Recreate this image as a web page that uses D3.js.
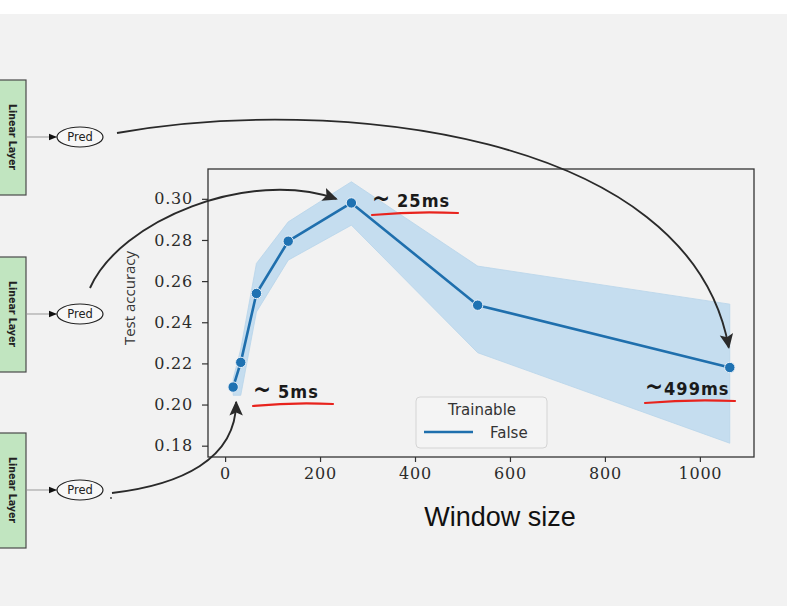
<!DOCTYPE html>
<html>
<head>
<meta charset="utf-8">
<script src="https://cdn.jsdelivr.net/npm/d3@7"></script>
<style>
  body { margin: 0; background: #fff; }
  svg { display: block; }
</style>
</head>
<body>
<div id="chart"></div>
<script>
// Window sizes and test accuracy (mean + confidence band)
const windowSizes = [17, 33, 66, 133, 266, 532, 1063];
const accMean  = [0.2085, 0.2205, 0.2540, 0.2794, 0.2980, 0.2483, 0.2180];
const accLower = [0.2045, 0.2045, 0.2450, 0.2702, 0.2872, 0.2252, 0.1812];
const accUpper = [0.2125, 0.2270, 0.2686, 0.2888, 0.3083, 0.2673, 0.2488];
const xTicks = [0, 200, 400, 600, 800, 1000];
const yTicks = [0.18, 0.20, 0.22, 0.24, 0.26, 0.28, 0.30];
const legendTitle = "Trainable";
const legendLabel = "False";
const blockLabels = ["Linear Layer", "Linear Layer", "Linear Layer"];
const blockTops = [80, 257, 433];
const notes = ["5ms", "25ms", "499ms"];

const W = 787, H = 606;
const svg = d3.select("#chart").append("svg")
    .attr("width", W)
    .attr("height", H)

svg.append("rect").attr("width", W).attr("height", H).attr("fill", "#fff")
svg.append("rect").attr("y", 14).attr("width", W).attr("height", H - 14).attr("fill", "#f2f2f2")

// plot area
const plot = {left: 208, right: 754, top: 169, bottom: 457}
var x = d3.scaleLinear().domain([-36, 1114]).range([plot.left, plot.right])
var y = d3.scaleLinear().domain([0.1745, 0.3145]).range([plot.bottom, plot.top])

const data = windowSizes.map((w, i) => ({w: w, m: accMean[i], lo: accLower[i], hi: accUpper[i]}))

// band
svg.append("path")
    .datum(data)
    .attr("fill", "#c5ddef")
    .attr("stroke", "#b8d4ea")
    .attr("stroke-width", 0.8)
    .attr("d", d3.area().x(d => x(d.w)).y0(d => y(d.lo)).y1(d => y(d.hi)))

// mean line
svg.append("path")
    .datum(data)
    .attr("fill", "none")
    .attr("stroke", "#1f6fad")
    .attr("stroke-width", 2.6)
    .attr("stroke-linejoin", "round")
    .attr("d", d3.line().x(d => x(d.w)).y(d => y(d.m)))

svg.append("g")
    .selectAll("circle")
    .data(data)
    .join("circle")
    .attr("cx", d => x(d.w))
    .attr("cy", d => y(d.m))
    .attr("r", 5.2)
    .attr("fill", "#1f72b2")
    .attr("stroke", "#e8f0f8")
    .attr("stroke-width", 1)

// axes
const tickFont = "'DejaVu Serif', serif"
const xAxis = svg.append("g")
    .attr("transform", "translate(0," + plot.bottom + ")")
    .call(d3.axisBottom(x).tickValues(xTicks).tickSize(5).tickPadding(6).tickFormat(d3.format("d")))
const yAxis = svg.append("g")
    .attr("transform", "translate(" + plot.left + ",0)")
    .call(d3.axisLeft(y).tickValues(yTicks).tickSize(6).tickPadding(9).tickFormat(d3.format(".2f")))
for (const ax of [xAxis, yAxis]) {
    ax.select(".domain").remove()
    ax.selectAll("line").attr("stroke", "#333").attr("stroke-width", 1.2)
    ax.selectAll("text")
        .attr("fill", "#2b2b2b")
        .style("font-family", tickFont)
        .style("font-size", "16px")
        .style("letter-spacing", "0.8px")
}

svg.append("rect")
    .attr("x", plot.left).attr("y", plot.top)
    .attr("width", plot.right - plot.left).attr("height", plot.bottom - plot.top)
    .attr("fill", "none").attr("stroke", "#333").attr("stroke-width", 1.3)

// axis labels
svg.append("text")
    .attr("transform", "translate(135," + ((plot.top + plot.bottom) / 2 - 15) + ") rotate(-90)")
    .attr("text-anchor", "middle")
    .attr("fill", "#333")
    .style("font-family", "'Open Sans', sans-serif")
    .style("font-size", "15px")
    .text("Test accuracy")

svg.append("text")
    .attr("x", 500).attr("y", 526)
    .attr("text-anchor", "middle")
    .attr("fill", "#111")
    .style("font-family", "'Liberation Sans', Arial, sans-serif")
    .style("font-size", "27px")
    .text("Window size")

// legend
const lg = svg.append("g").attr("transform", "translate(416,397)")
lg.append("rect")
    .attr("width", 131).attr("height", 51).attr("rx", 4)
    .attr("fill", "#f4f4f4").attr("stroke", "#d4d4d4")
lg.append("text")
    .attr("x", 66).attr("y", 18)
    .attr("text-anchor", "middle")
    .attr("fill", "#333")
    .style("font-family", "'DejaVu Sans', sans-serif")
    .style("font-size", "15px")
    .text(legendTitle)
lg.append("line")
    .attr("x1", 8).attr("x2", 57).attr("y1", 35).attr("y2", 35)
    .attr("stroke", "#1f6fad").attr("stroke-width", 2.6)
lg.append("text")
    .attr("x", 74).attr("y", 41)
    .attr("fill", "#333")
    .style("font-family", "'DejaVu Sans', sans-serif")
    .style("font-size", "15px")
    .text(legendLabel)

// left diagram blocks
const defs = svg.append("defs")
defs.append("marker")
    .attr("id", "head")
    .attr("viewBox", "0 0 10 10")
    .attr("refX", 9).attr("refY", 5)
    .attr("markerUnits", "userSpaceOnUse")
    .attr("markerWidth", 15).attr("markerHeight", 15)
    .attr("orient", "auto")
    .append("path").attr("d", "M0,0.5 L10,5 L0,9.5 L2,5 Z").attr("fill", "#2a2a2a")
defs.append("marker")
    .attr("id", "small")
    .attr("viewBox", "0 0 10 10")
    .attr("refX", 10).attr("refY", 5)
    .attr("markerUnits", "userSpaceOnUse")
    .attr("markerWidth", 11).attr("markerHeight", 8)
    .attr("orient", "auto")
    .append("path").attr("d", "M0,1 L10,5 L0,9 Z").attr("fill", "#111")

const predCenters = []
blockTops.forEach((top, i) => {
    const g = svg.append("g")
    const cy = top + 57
    g.append("rect")
        .attr("x", -2).attr("y", top).attr("width", 28).attr("height", 115)
        .attr("fill", "#c1e5c0").attr("stroke", "#4a4a4a").attr("stroke-width", 1.2)
    g.append("text")
        .attr("transform", "translate(9, " + cy + ") rotate(90)")
        .attr("text-anchor", "middle")
        .attr("fill", "#222")
        .style("font-family", "'DejaVu Sans Condensed', 'DejaVu Sans', sans-serif")
        .style("font-weight", "bold")
        .style("font-size", "10.5px")
        .text(blockLabels[i])
    g.append("line")
        .attr("x1", 27).attr("x2", 57).attr("y1", cy).attr("y2", cy)
        .attr("stroke", "#999").attr("stroke-width", 1)
        .attr("marker-end", "url(#small)")
    g.append("ellipse")
        .attr("cx", 80).attr("cy", cy).attr("rx", 23).attr("ry", 10)
        .attr("fill", "#f7f7f7").attr("stroke", "#222").attr("stroke-width", 1.2)
    g.append("text")
        .attr("x", 80).attr("y", cy + 4)
        .attr("text-anchor", "middle")
        .attr("fill", "#222")
        .style("font-family", "'DejaVu Sans', sans-serif")
        .style("font-size", "11.5px")
        .text("Pred")
    predCenters.push(cy)
})

// curved arrows pointing at the 499ms, 25ms and 5ms points
const p1 = data[0], p5 = data[4], p7 = data[6]
const arrows = [
    `M117,${predCenters[0] - 4} C330,95 ${x(p7.w) - 40},130 ${x(p7.w) - 1},${y(p7.m) - 20}`,
    `M90,${predCenters[1] - 26} C120,220 250,168 ${x(p5.w) - 15},${y(p5.m) - 4}`,
    `M112,${predCenters[2] + 3} C180,485 236,460 ${x(p1.w) + 3},${y(p1.m) + 15}`
]
svg.append("g")
    .selectAll("path")
    .data(arrows)
    .join("path")
    .attr("d", d => d)
    .attr("fill", "none")
    .attr("stroke", "#2a2a2a")
    .attr("stroke-width", 1.9)
    .attr("marker-end", "url(#head)")
svg.append("circle").attr("cx", 111).attr("cy", 498).attr("r", 0.9).attr("fill", "#333")

// hand-written timing notes
const notePos = [[253, 398, 80], [372, 207, 86], [645, 395, 90]]
notes.forEach((n, i) => {
    const [nx, ny, nw] = notePos[i]
    const t = svg.append("text")
        .attr("x", nx).attr("y", ny)
        .attr("fill", "#1a1a1a")
        .style("font-family", "'DejaVu Sans Condensed', 'DejaVu Sans', sans-serif")
        .style("font-weight", "bold")
        .style("font-size", "18px")
        .style("letter-spacing", "1px")
    t.append("tspan").style("font-size", "24px").text("~")
    t.append("tspan").attr("dx", i == 2 ? 0 : 6).text(n)
    svg.append("path")
        .attr("d", `M${nx},${ny + 8} Q${nx + nw / 2},${ny + 4} ${nx + nw},${ny + 6}`)
        .attr("fill", "none")
        .attr("stroke", "#e8231d")
        .attr("stroke-width", 2.2)
        .attr("stroke-linecap", "round")
})
</script>
</body>
</html>
